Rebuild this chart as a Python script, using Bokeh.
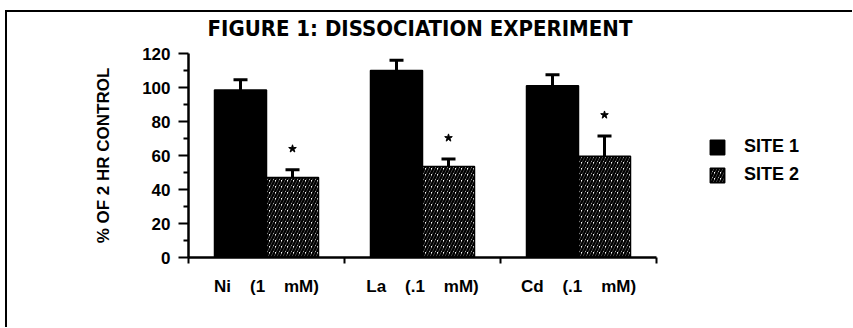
from bokeh.plotting import figure
from bokeh.models import (ColumnDataSource, FixedTicker, Whisker, TeeHead,
                          Legend, LegendItem, Range1d)
from bokeh.embed import file_html
from bokeh.resources import INLINE

# ---- data ----
groups = ["Ni\u00a0\u00a0\u00a0\u00a0(1\u00a0\u00a0\u00a0\u00a0mM)",
          "La\u00a0\u00a0\u00a0\u00a0(.1\u00a0\u00a0\u00a0\u00a0mM)",
          "Cd\u00a0\u00a0\u00a0\u00a0(.1\u00a0\u00a0\u00a0\u00a0mM)"]
site1 = [98.5, 110.0, 101.0]
site1_err = [6.0, 6.0, 6.5]
site2 = [47.0, 53.5, 59.5]
site2_err = [4.6, 4.5, 12.0]
significant = [True, True, True]
y_ticks = [0, 20, 40, 60, 80, 100, 120]
y_minor = [10, 30, 50, 70, 90, 110]

BW = 1.0 / 3.0
n = len(groups)
idx = list(range(n))
centers = [i + 0.5 for i in idx]

s1 = ColumnDataSource(dict(
    x=[c - BW / 2 for c in centers], top=site1,
    upper=[v + e for v, e in zip(site1, site1_err)]))
s2 = ColumnDataSource(dict(
    x=[c + BW / 2 for c in centers], top=site2,
    upper=[v + e for v, e in zip(site2, site2_err)]))

FONT = "Liberation Sans, Arial, sans-serif"
NARROW = "DejaVu Sans Condensed, sans-serif"

# the plotting frame runs on to the right edge so the legend can sit there;
# the x axis itself is bounded to the groups (468 px for 3 groups)
GROUP_PX = 156.0
W, H = 847, 327
LEFT = 183
x_end = (W - LEFT) / GROUP_PX

p = figure(width=W, height=H, output_backend="svg", toolbar_location=None,
           x_range=Range1d(0, x_end), y_range=Range1d(0, 120),
           min_border_left=LEFT, min_border_right=0,
           min_border_top=53, min_border_bottom=70,
           title="FIGURE 1: DISSOCIATION EXPERIMENT")
# top and left edges of the scanned figure box
p.styles = {
    "margin-left": "5px", "margin-top": "0px",
    "background": ("linear-gradient(#000,#000) 0 10px / 100% 2px no-repeat, "
                   "linear-gradient(#000,#000) 0 10px / 2px 100% no-repeat, #fff"),
}
p.border_fill_color = None
p.background_fill_color = None
p.outline_line_color = None
p.xgrid.visible = False
p.ygrid.visible = False

p.title.align = "left"
p.title.offset = 19
p.title.text_font = NARROW
p.title.text_font_size = "22px"
p.title.text_font_style = "bold"
p.title.text_color = "black"
p.title.standoff = 26

r1 = p.vbar(x="x", top="top", width=BW, bottom=0, source=s1,
            fill_color="black", line_color="black", line_width=1.5)
r2 = p.vbar(x="x", top="top", width=BW, bottom=0, source=s2,
            fill_color="white", line_color="black", line_width=1.5,
            hatch_pattern="/", hatch_color="black", hatch_scale=6,
            hatch_weight=2.5)

for src in (s1, s2):
    w = Whisker(base="x", lower="top", upper="upper", source=src,
                line_color="black", line_width=3,
                upper_head=TeeHead(size=14, line_width=3, line_color="black"),
                lower_head=None)
    p.add_layout(w)

# significance stars, ~21px above the cap
star_y = [v + e + 21 / 1.7 for v, e, s in zip(site2, site2_err, significant) if s]
star_x = [c + BW / 2 for c, s in zip(centers, significant) if s]
p.scatter(star_x, star_y, marker="star", size=8, fill_color="black",
          line_color="black")

# axes
xa = p.xaxis[0]
xa.bounds = (0, n)
xa.ticker = FixedTicker(ticks=centers, minor_ticks=list(range(n + 1)))
xa.major_label_overrides = {c: g for c, g in zip(centers, groups)}
xa.major_tick_out = 0
xa.major_tick_in = 0
xa.minor_tick_out = 6
xa.minor_tick_in = 0
xa.axis_line_width = 2.5
xa.minor_tick_line_width = 2
xa.major_label_standoff = 13
xa.major_label_text_font = FONT
xa.major_label_text_font_style = "bold"
xa.major_label_text_font_size = "17px"
xa.major_label_text_color = "black"

ya = p.yaxis[0]
ya.ticker = FixedTicker(ticks=y_ticks, minor_ticks=y_minor)
ya.major_tick_out = 10
ya.major_tick_in = 0
ya.minor_tick_out = 5
ya.minor_tick_in = 0
ya.axis_line_width = 2.5
ya.major_tick_line_width = 2
ya.minor_tick_line_width = 2
ya.major_label_standoff = 8
ya.major_label_text_font = FONT
ya.major_label_text_font_style = "bold"
ya.major_label_text_font_size = "17px"
ya.major_label_text_color = "black"
ya.axis_label = "% OF 2 HR CONTROL"
ya.axis_label_text_font = FONT
ya.axis_label_text_font_style = "bold"
ya.axis_label_text_font_size = "17px"
ya.axis_label_text_color = "black"
ya.axis_label_standoff = 26

legend = Legend(items=[LegendItem(label="SITE 1", renderers=[r1]),
                       LegendItem(label="SITE 2", renderers=[r2])],
                location=(520, 72), padding=0, margin=0, spacing=7,
                glyph_width=18, glyph_height=18, label_height=18,
                label_standoff=18, border_line_color=None,
                background_fill_alpha=0,
                label_text_font=FONT, label_text_font_style="bold",
                label_text_font_size="18px", label_text_color="black")
p.add_layout(legend, "center")

open("out.html", "w").write(file_html(p, INLINE))
